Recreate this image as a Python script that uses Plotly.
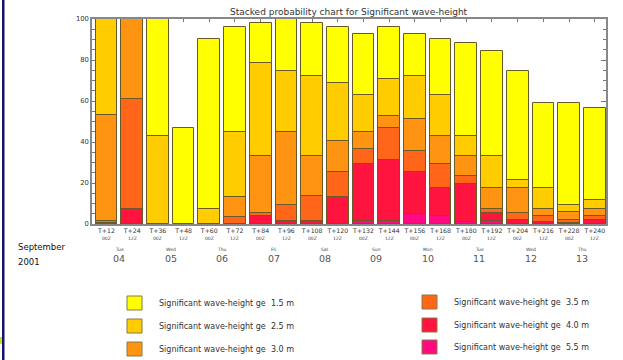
import plotly.graph_objects as go

# Forecast steps (hours) and cumulative exceedance probabilities (%)
steps = ["T+12", "T+24", "T+36", "T+48", "T+60", "T+72", "T+84", "T+96", "T+108", "T+120",
         "T+132", "T+144", "T+156", "T+168", "T+180", "T+192", "T+204", "T+216", "T+228", "T+240"]
cycle = ["00Z", "12Z"] * 10
day_names = ["Tue", "Wed", "Thu", "Fri", "Sat", "Sun", "Mon", "Tue", "Wed", "Thu"]
day_nums = ["04", "05", "06", "07", "08", "09", "10", "11", "12", "13"]

ge_1_5 = [100, 100, 100, 46.8, 90.3, 96.3, 98.2, 100, 98.2, 96.3,
          92.5, 96.3, 92.5, 90.4, 88.1, 84.6, 74.7, 58.8, 58.8, 56.5]
ge_2_5 = [100, 100, 43.0, 0, 7.5, 45.0, 78.7, 74.7, 72.4, 68.7,
          62.7, 70.8, 72.4, 62.7, 43.0, 33.1, 21.3, 17.5, 9.4, 11.5]
ge_3_0 = [53.0, 100, 0, 0, 0, 13.1, 33.1, 45.0, 33.1, 40.6,
          45.0, 52.9, 51.1, 43.0, 33.1, 17.5, 17.5, 7.5, 5.7, 7.5]
ge_3_5 = [1.6, 61.0, 0, 0, 0, 3.6, 5.5, 9.4, 13.5, 25.6,
          36.7, 46.9, 35.4, 29.4, 23.2, 7.5, 5.2, 3.7, 2.0, 3.7]
ge_4_0 = [0.4, 7.5, 0, 0, 0, 0, 4.0, 1.3, 1.5, 13.3,
          29.4, 31.2, 25.3, 17.5, 19.5, 5.2, 2.0, 1.0, 0.6, 1.8]
ge_5_5 = [0, 0, 0, 0, 0, 0, 0, 0, 0, 0,
          1.6, 1.6, 5.0, 3.9, 1.0, 1.3, 0, 0, 0, 0]

thresholds = ["1.5", "2.5", "3.0", "3.5", "4.0", "5.5"]
series = [ge_1_5, ge_2_5, ge_3_0, ge_3_5, ge_4_0, ge_5_5]
colors = ["#FFFF00", "#FFCC00", "#FF9412", "#FF6619", "#FF1440", "#FF0A80"]

W, H = 623, 360
L, R, T, B = 92, 17, 19, 136
PW, PH = W - L - R, H - T - B


def px_x(x):
    return (x - L) / PW


def px_y(y):
    return (H - B - y) / PH


FONT = "DejaVu Sans"
TXT = "#333333"

x_idx = list(range(len(steps)))
fig = go.Figure()
for thr, vals, col in zip(thresholds, series, colors):
    fig.add_trace(go.Bar(
        x=x_idx,
        y=[v if v > 0 else None for v in vals],
        width=0.845,
        marker=dict(color=col, line=dict(color="#6a5a28", width=1)),
        name=f"Significant wave-height ge {thr} m",
        showlegend=False,
    ))


def note(x, y, text, size, color=TXT, xref="paper", xanchor="center"):
    return dict(x=x, y=y, xref=xref, yref="paper", text=text, showarrow=False,
                xanchor=xanchor, yanchor="middle",
                font=dict(size=size, color=color, family=FONT))


annotations = []
# forecast cycle and day labels under the axis
for i, c in enumerate(cycle):
    annotations.append(note(i, px_y(238.5), c, 4.5, "#444", xref="x"))
for k, (dn, dd) in enumerate(zip(day_names, day_nums)):
    annotations.append(note(2 * k + 0.5, px_y(249), dn, 4.5, "#444", xref="x"))
    annotations.append(note(2 * k + 0.5, px_y(258.5), dd, 9.5, "#555", xref="x"))
annotations.append(note(px_x(16), px_y(247), "September", 8.5, "#111", xanchor="left"))
annotations.append(note(px_x(16), px_y(262), "2001", 8.5, "#111", xanchor="left"))
annotations.append(note(0.5, px_y(12), "Stacked probability chart for Significant wave-height", 9))

shapes = []
# legend boxes
legend_pos = [(127, 303), (127, 326), (127, 349), (422, 302), (422, 325), (422, 347)]
for (lx, ly), thr, col in zip(legend_pos, thresholds, colors):
    shapes.append(dict(type="rect", xref="paper", yref="paper",
                       x0=px_x(lx), x1=px_x(lx + 15), y0=px_y(ly - 7), y1=px_y(ly + 7),
                       fillcolor=col, line=dict(color="#8a7a40", width=1)))
    annotations.append(note(px_x(lx + 30), px_y(ly),
                            f"Significant wave-height ge&nbsp;&nbsp;{thr} m", 8,
                            xanchor="left"))

# page frame line at the left edge
shapes.append(dict(type="rect", xref="paper", yref="paper",
                   x0=px_x(2), x1=px_x(4.5), y0=px_y(H), y1=px_y(0),
                   fillcolor="#14146e", line=dict(width=0)))
shapes.append(dict(type="rect", xref="paper", yref="paper",
                   x0=px_x(0), x1=px_x(2), y0=px_y(344), y1=px_y(337),
                   fillcolor="#c8e020", line=dict(width=0)))

fig.update_layout(
    width=W, height=H,
    margin=dict(l=L, r=R, t=T, b=B),
    paper_bgcolor="white", plot_bgcolor="white",
    barmode="overlay",
    bargap=0,
    font=dict(family=FONT, size=7, color=TXT),
    annotations=annotations,
    shapes=shapes,
    xaxis=dict(
        range=[-0.564, 19.436],
        tickmode="array", tickvals=x_idx, ticktext=steps, tickangle=0,
        ticks="inside", ticklen=3, tickcolor="#777",
        showline=True, linecolor="#888", linewidth=1.5, mirror="ticks",
        showgrid=False, zeroline=False, layer="below traces",
        tickfont=dict(size=6.2, color=TXT, family=FONT),
    ),
    yaxis=dict(
        range=[0, 100],
        tickmode="array", tickvals=[0, 20, 40, 60, 80, 100],
        ticks="inside", ticklen=5, tickcolor="#777",
        minor=dict(dtick=5, ticks="inside", ticklen=3, tickcolor="#777"),
        showline=True, linecolor="#888", linewidth=1.5, mirror="ticks",
        showgrid=False, zeroline=False, layer="below traces",
        tickfont=dict(size=6.8, color=TXT, family=FONT),
    ),
)

fig.write_html("out.html")
